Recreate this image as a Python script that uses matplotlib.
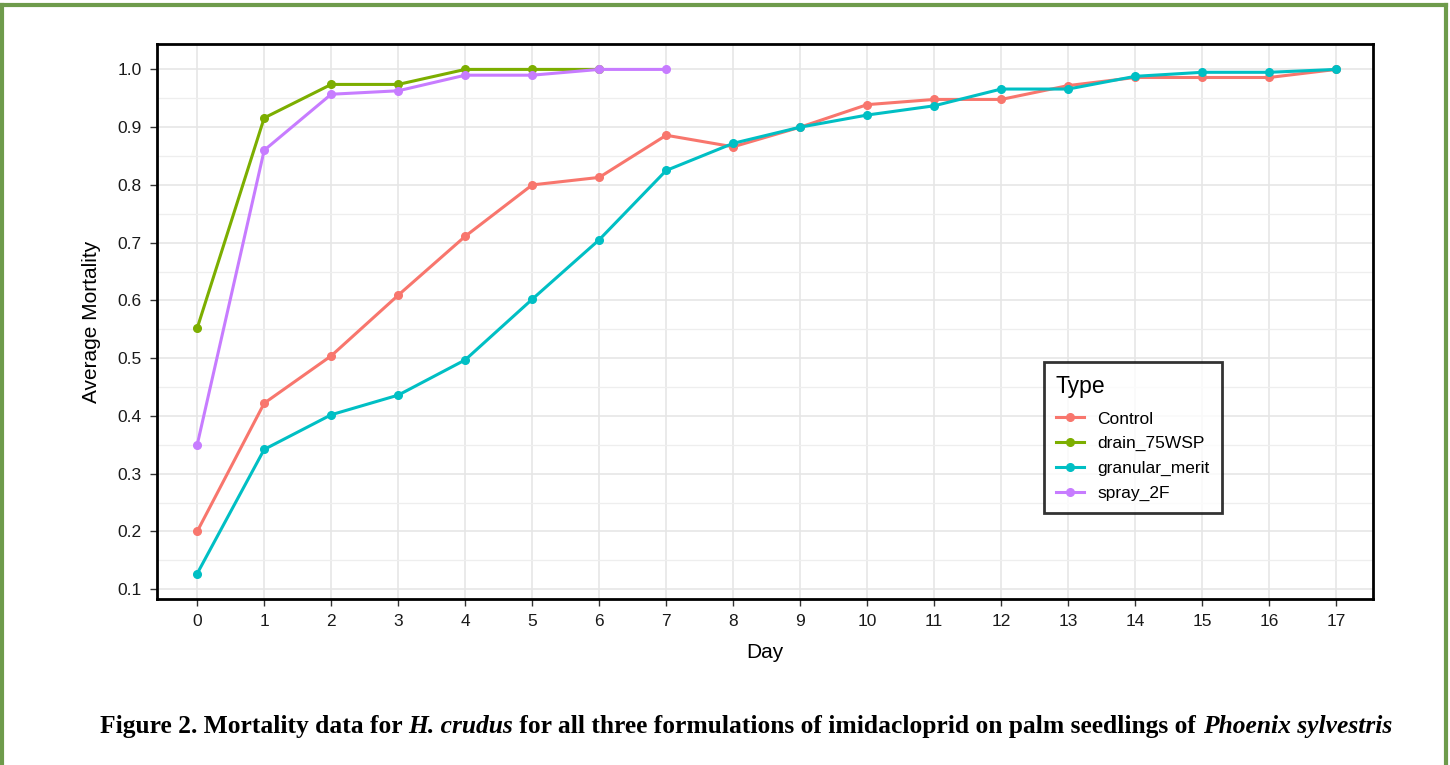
import numpy as np
import matplotlib
matplotlib.use("Agg")
from matplotlib import pyplot as plt
from matplotlib.lines import Line2D

# data
days = list(range(18))
control = [0.200, 0.422, 0.504, 0.609, 0.711, 0.800, 0.813, 0.886, 0.866, 0.900,
           0.939, 0.948, 0.948, 0.972, 0.986, 0.986, 0.986, 1.000]
drain_75wsp = [0.552, 0.916, 0.974, 0.974, 1.000, 1.000, 1.000]
granular_merit = [0.127, 0.342, 0.402, 0.436, 0.497, 0.602, 0.705, 0.825, 0.872, 0.900,
                  0.921, 0.937, 0.966, 0.966, 0.988, 0.995, 0.995, 1.000]
spray_2f = [0.350, 0.860, 0.957, 0.963, 0.990, 0.990, 1.000, 1.000]

names = ["Control", "drain_75WSP", "granular_merit", "spray_2F"]
series = [control, drain_75wsp, granular_merit, spray_2f]
colors = ["#F8766D", "#7CAE00", "#00BFC4", "#C77CFF"]

plt.rcParams['font.family'] = ['Liberation Sans', 'DejaVu Sans']

fig = plt.figure(figsize=(14.5, 7.65), dpi=100)

# green frame round the figure
fw, fh = 1450.0, 765.0
border = "#6e9b4b"
for xs, ys in [([2/fw, 2/fw], [0, 1-5/fh]), ([2/fw, 1446/fw], [1-5/fh, 1-5/fh]),
               ([1446/fw, 1446/fw], [1-5/fh, 0])]:
    fig.add_artist(Line2D(xs, ys, color=border, lw=3, transform=fig.transFigure))

ax = fig.add_axes([157/fw, 1-599/fh, (1373-157)/fw, (599-44)/fh])

for name, vals, c in zip(names, series, colors):
    ax.plot(days[:len(vals)], vals, color=c, lw=2.2, marker='o', ms=5.5,
            label=name, zorder=3)

ax.set_xlim(-0.6, 17.55)
ax.set_ylim(0.083, 1.044)
ax.set_xticks(days)
ax.set_yticks(np.arange(0.1, 1.01, 0.1))
ax.set_yticklabels([f"{v:.1f}" for v in np.arange(0.1, 1.01, 0.1)])
ax.set_yticks(np.arange(0.15, 1.0, 0.1), minor=True)
ax.grid(True, which='major', color='#e6e6e6', lw=1.2, zorder=0)
ax.grid(True, which='minor', axis='y', color='#eeeeee', lw=0.9, zorder=0)
ax.tick_params(axis='x', which='minor', bottom=False)
ax.tick_params(axis='y', which='minor', left=False)
ax.tick_params(which='major', length=5, width=1, color='#333333',
               labelsize=12.5, labelcolor='#1a1a1a', pad=6)
ax.set_axisbelow(True)
for s in ax.spines.values():
    s.set_linewidth(2)
    s.set_color('black')

ax.set_xlabel("Day", fontsize=15, labelpad=10)
ax.set_ylabel("Average Mortality", fontsize=15, labelpad=12)

leg = ax.legend(title="Type", loc='upper left', bbox_to_anchor=(0.722, 0.442),
                fontsize=12.5, title_fontsize=16.5, frameon=True, fancybox=False,
                edgecolor='black', handlelength=1.6, borderpad=0.7,
                labelspacing=0.55, alignment='left')
leg.get_frame().set_linewidth(2)
leg._legend_box.sep = 10

# caption in mixed bold / bold italic
parts = [("Figure 2. Mortality data for ", 'normal'), ("H. crudus", 'italic'),
         (" for all three formulations of imidacloprid on palm seedlings of ", 'normal'),
         ("Phoenix sylvestris", 'italic')]
fig.canvas.draw()
r = fig.canvas.get_renderer()
texts = []
for txt, st in parts:
    t = fig.text(0, 1-733/fh, txt, fontsize=18.4, fontweight='bold', style=st,
                 family='Liberation Serif', va='baseline', ha='left')
    texts.append(t)
widths = [t.get_window_extent(r).width for t in texts]
x = (746 - sum(widths)/2)
for t, w in zip(texts, widths):
    t.set_x(x/fw)
    x += w

fig.savefig("out.png", dpi=100)
